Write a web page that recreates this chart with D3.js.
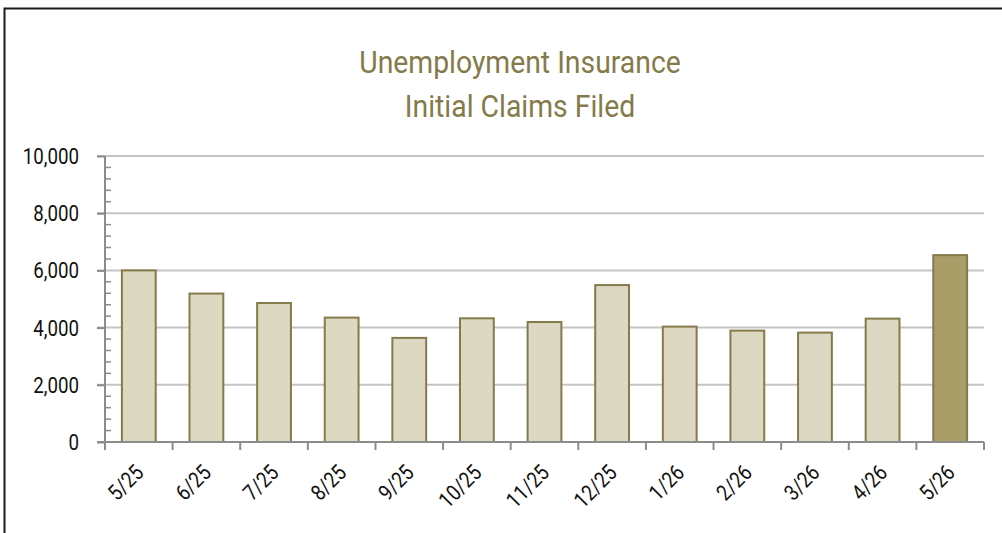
<!DOCTYPE html>
<html>
<head>
<meta charset="utf-8">
<script src="https://cdn.jsdelivr.net/npm/d3@7"></script>
<style>
  body { margin: 0; background: #fff; }
  svg { display: block; }
  .cond { font-family: "Roboto", "Liberation Sans", sans-serif; }
</style>
</head>
<body>
<svg id="chart" width="1002" height="533"></svg>
<script>
// 月份與初次申請件數
const months = ["5/25", "6/25", "7/25", "8/25", "9/25", "10/25", "11/25", "12/25", "1/26", "2/26", "3/26", "4/26", "5/26"];
const claims = [6000, 5190, 4860, 4350, 3640, 4325, 4195, 5487, 4035, 3895, 3825, 4314, 6534];
const yTicks = [0, 2000, 4000, 6000, 8000, 10000];
const titleLines = ["Unemployment Insurance", "Initial Claims Filed"];

const svg = d3.select("#chart");
const narrow = 0.85; // 模擬窄體字

// 外框
svg.append("rect")
  .attr("x", 4.5).attr("y", 8.5)
  .attr("width", 1100).attr("height", 600)
  .attr("fill", "none").attr("stroke", "#1a1a1a").attr("stroke-width", 2);

const plotL = 105, plotR = 984, plotT = 156, plotB = 442;

const x = d3.scaleBand().domain(months).range([plotL, plotR]).paddingInner(0.5).paddingOuter(0.25);
const y = d3.scaleLinear().domain([0, 10000]).range([plotB, plotT]);

// 標題
svg.append("g").selectAll("text").data(titleLines).join("text")
  .attr("class", "cond")
  .attr("text-anchor", "middle")
  .attr("fill", "#857a4a").attr("font-size", 31.5)
  .attr("transform", (d, i) => `translate(520,${73 + i * 43.5}) scale(0.9,1)`)
  .text(d => d);

// 格線
svg.append("g").selectAll("line").data(yTicks.slice(1)).join("line")
  .attr("x1", 97).attr("x2", plotR)
  .attr("y1", d => y(d)).attr("y2", d => y(d))
  .attr("stroke", "#c4c4c4").attr("stroke-width", 2);

// Y 軸次刻度
svg.append("g").selectAll("line").data(d3.range(400, 10000, 400).filter(v => v % 2000 !== 0)).join("line")
  .attr("x1", plotL).attr("x2", plotL + 6)
  .attr("y1", d => y(d)).attr("y2", d => y(d))
  .attr("stroke", "#8c8c8c").attr("stroke-width", 1.5);

// 長條
svg.append("g").selectAll("rect").data(claims).join("rect")
  .attr("x", (d, i) => x(months[i]))
  .attr("y", d => y(d))
  .attr("width", x.bandwidth())
  .attr("height", d => plotB - y(d))
  .attr("fill", (d, i) => i === claims.length - 1 ? "#a99d68" : "#ddd8c2")
  .attr("stroke", "#857a4a").attr("stroke-width", 2);

// Y 軸
const yAxis = svg.append("g").attr("transform", `translate(${plotL},0)`)
  .call(d3.axisLeft(y).tickValues(yTicks).tickSize(8).tickFormat(""));
yAxis.select(".domain").attr("stroke", "#8c8c8c").attr("stroke-width", 2).attr("d", `M0,${plotT}V${plotB}`);
yAxis.selectAll(".tick line").attr("stroke", "#8c8c8c").attr("stroke-width", 2);

svg.append("g").selectAll("text").data(yTicks).join("text")
  .attr("class", "cond")
  .attr("font-size", 22).attr("fill", "#111")
  .attr("text-anchor", "end")
  .attr("transform", d => `translate(79,${y(d) + 8}) scale(${narrow},1)`)
  .text(d3.format(","));

// X 軸
const xAxis = svg.append("g").attr("transform", `translate(0,${plotB})`)
  .call(d3.axisBottom(x).tickSize(0).tickFormat(""));
xAxis.select(".domain").attr("stroke", "#8c8c8c").attr("stroke-width", 2).attr("d", `M${plotL - 8},0H${plotR}`);

svg.append("g").selectAll("line").data(d3.range(months.length + 1)).join("line")
  .attr("x1", i => plotL + i * (plotR - plotL) / months.length)
  .attr("x2", i => plotL + i * (plotR - plotL) / months.length)
  .attr("y1", plotB).attr("y2", plotB + 8)
  .attr("stroke", "#8c8c8c").attr("stroke-width", 2);

svg.append("g").selectAll("text").data(months).join("text")
  .attr("class", "cond")
  .attr("font-size", 22).attr("fill", "#111")
  .attr("text-anchor", "end")
  .attr("transform", d => `translate(${x(d) + x.bandwidth() / 2 + 6},${plotB + 32}) rotate(-45) scale(${narrow},1)`)
  .text(d => d);
</script>
</body>
</html>
